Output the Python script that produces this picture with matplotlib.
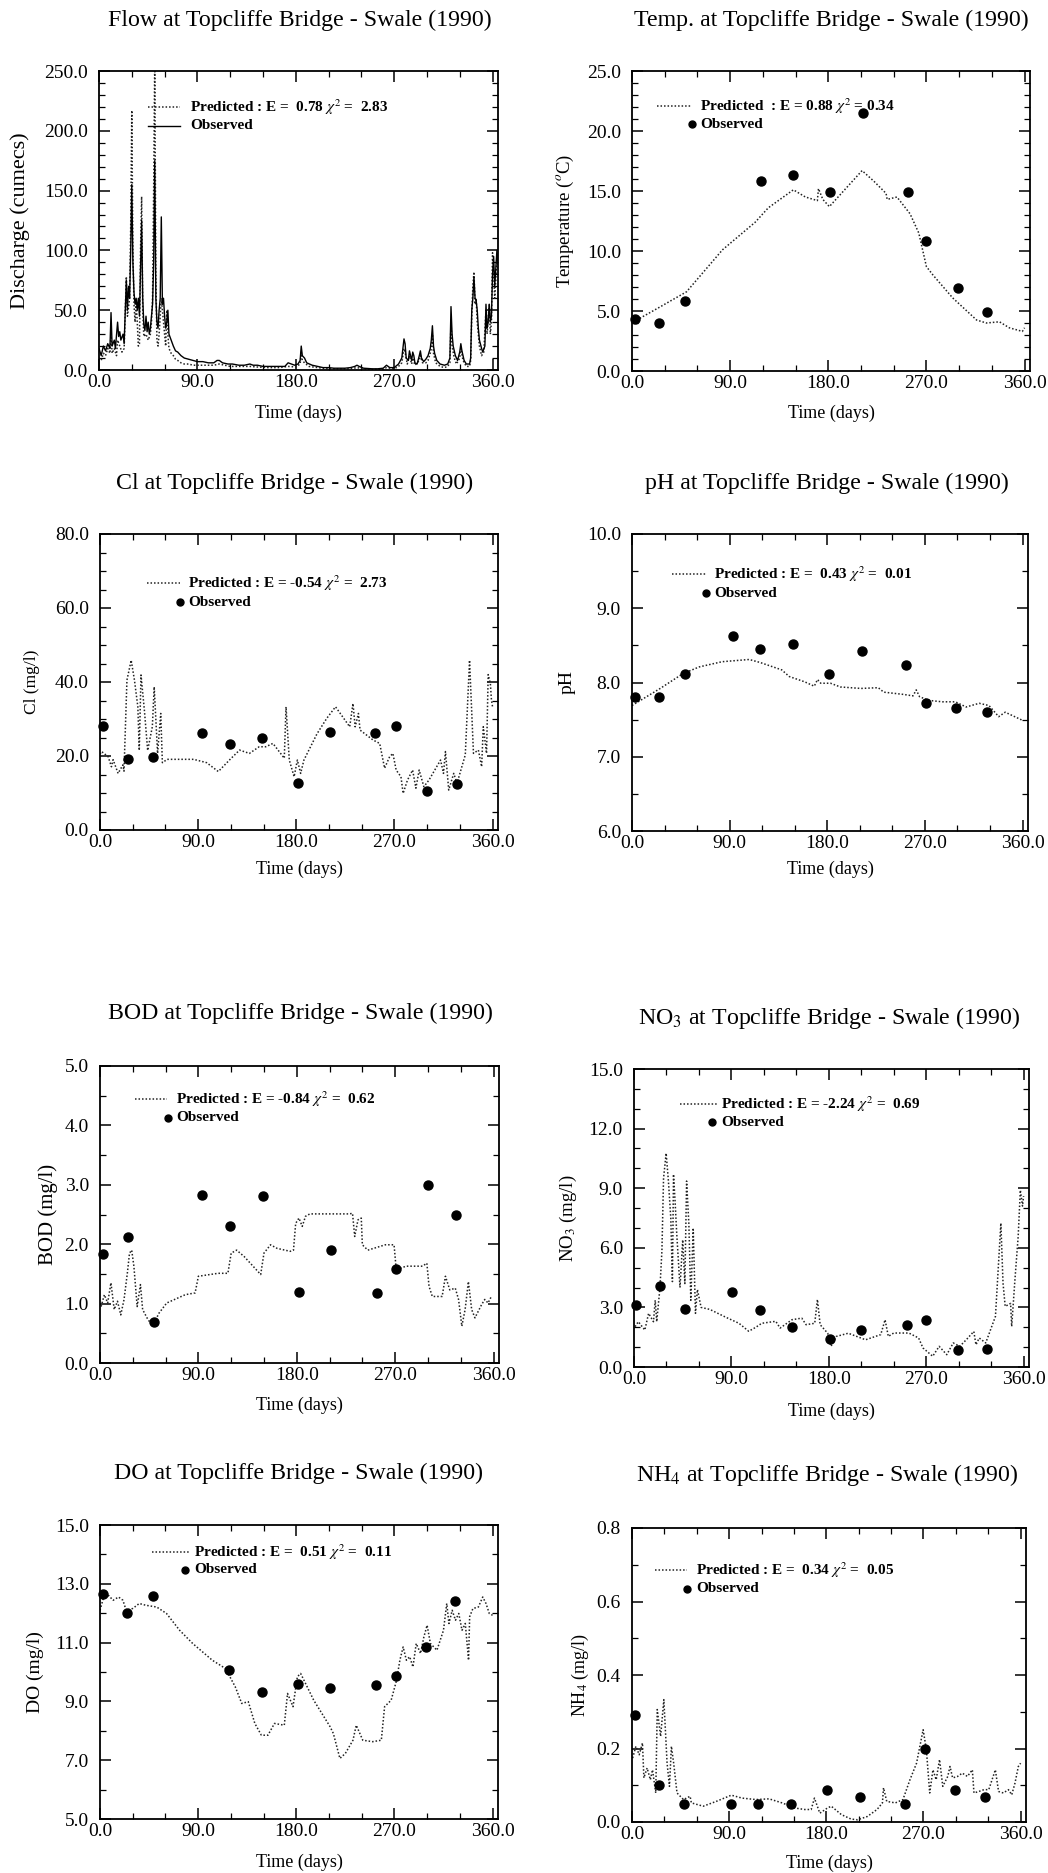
import matplotlib
matplotlib.use("Agg")
import matplotlib.pyplot as plt
from matplotlib.ticker import MultipleLocator, FormatStrFormatter, FixedLocator

plt.rcParams['font.family'] = ['Liberation Serif', 'DejaVu Serif']
plt.rcParams['mathtext.fontset'] = 'stix'

# ---------------- DATA ----------------
# Flow (cumecs)
flow_obs_day = [0, 2, 4, 6, 8, 10, 11, 12, 14, 15, 17, 18, 19, 20, 22, 23, 25, 26, 27, 28, 29, 30, 31, 32, 33, 34, 35, 36, 37, 38, 39, 40,
                41, 42, 43, 44, 45, 46, 47, 48, 49, 50, 51, 52, 53, 54, 55, 56, 57, 58, 59, 60, 61, 62, 63, 64, 66, 68, 70, 72, 75, 78,
                82, 86, 90, 95, 100, 105, 108, 110, 113, 118, 122, 128, 133, 138, 141, 145, 150, 155, 160, 165, 170, 173, 176, 179,
                182, 184, 185, 186, 188, 190, 195, 200, 205, 210, 215, 220, 225, 230, 234, 236, 238, 242, 250, 255, 260, 263, 266,
                270, 274, 277, 279, 280, 281, 283, 284, 286, 287, 288, 289, 291, 293, 294, 295, 297, 299, 301, 303, 304, 305, 306,
                307, 309, 312, 316, 319, 321, 322, 323, 324, 326, 328, 330, 331, 332, 334, 336, 339, 340, 341, 342, 343, 344, 345,
                346, 347, 348, 350, 351, 353, 354, 355, 356, 357, 358, 359, 360, 361, 362, 363, 364, 365]
flow_obs = [18, 12, 20, 16, 22, 18, 48, 20, 25, 18, 40, 28, 32, 25, 30, 22, 75, 50, 70, 60, 100, 155, 90, 65, 55, 60, 50, 60, 45, 85, 125, 60,
            38, 33, 45, 32, 40, 30, 35, 45, 55, 90, 175, 60, 40, 35, 50, 60, 128, 55, 60, 45, 35, 40, 50, 30, 25, 20, 16, 15, 12, 10,
            9, 8, 7, 7, 6, 6, 8, 8, 6, 5, 5, 4, 4, 5, 4, 4, 3, 3, 3, 3, 3, 6, 5, 4,
            5, 8, 20, 12, 10, 6, 4, 3, 2, 2, 1.5, 1.5, 1.5, 2, 3, 4, 3, 1.5, 1, 1, 1.5, 4, 2,
            2, 5, 10, 26, 22, 10, 8, 16, 8, 15, 12, 6, 5, 12, 16, 10, 7, 9, 12, 18, 25, 37, 20,
            14, 8, 5, 4, 5, 10, 53, 30, 20, 12, 8, 15, 22, 16, 8, 5, 5, 10, 50, 60, 78, 60, 58,
            50, 35, 25, 18, 15, 20, 55, 35, 40, 55, 40, 45, 80, 95, 70, 85, 100, 90]
flow_pred_day = [0, 2, 4, 6, 8, 10, 11, 12, 14, 16, 17, 19, 21, 23, 25, 26, 28, 29, 30, 31, 32, 33, 34, 35, 36, 37, 38, 39, 40, 41, 43,
                 45, 47, 48, 49, 50, 51, 52, 53, 54, 55, 56, 57, 58, 59, 60, 61, 62, 63, 64, 66, 68, 70, 72, 75, 78, 82, 86, 90, 95,
                 100, 105, 110, 115, 120, 130, 138, 145, 155, 165, 173, 180, 184, 185, 186, 188, 192, 200, 210, 220, 230, 236, 242,
                 250, 260, 263, 270, 274, 277, 279, 280, 282, 284, 286, 287, 289, 293, 294, 296, 299, 301, 303, 304, 305, 306, 308,
                 312, 316, 319, 321, 322, 323, 325, 327, 330, 331, 333, 336, 339, 340, 341, 342, 343, 344, 345, 346, 348, 350, 352,
                 354, 355, 357, 358, 359, 360, 361, 362, 363, 364, 365]
flow_pred = [10, 8, 14, 12, 18, 14, 30, 14, 18, 12, 25, 20, 15, 18, 78, 45, 60, 120, 217, 100, 55, 40, 57, 40, 20, 22, 100, 145, 50, 28, 30,
             25, 30, 40, 60, 150, 260, 80, 25, 20, 30, 45, 60, 50, 40, 30, 20, 50, 30, 18, 14, 12, 9, 8, 6, 5, 5, 4, 4, 4,
             4, 4, 5, 4, 3, 3, 3, 2.5, 2, 2, 3, 2.5, 5, 15, 8, 6, 3, 2, 1, 1, 1, 2, 1,
             0.5, 0.5, 2, 1, 3, 6, 18, 15, 5, 12, 5, 10, 4, 8, 12, 6, 6, 8, 14, 18, 30, 14, 6,
             3, 2, 3, 6, 40, 20, 10, 5, 10, 18, 8, 3, 3, 8, 45, 70, 82, 55, 60, 40, 20, 12, 15,
             50, 30, 55, 30, 40, 98, 80, 60, 75, 95, 85]

# Temperature (deg C)
temp_pred_day = [1.5, 23, 50, 83, 113, 125, 148, 159, 170, 171, 175, 181, 192, 211, 222, 233, 234, 243, 255, 263, 270, 276, 294, 316,
                 325, 337, 346, 358, 360]
temp_pred = [4.1, 5.2, 6.6, 10.1, 12.4, 13.6, 15.1, 14.5, 14.2, 15.2, 14.3, 13.7, 14.8, 16.7, 15.8, 14.8, 14.3, 14.5, 13.1, 11.5, 8.7,
             8.0, 6.1, 4.25, 4.0, 4.1, 3.6, 3.3, 3.6]
temp_obs_day = [3, 25, 49, 118, 148, 182, 212, 253, 270, 299, 326]
temp_obs = [4.3, 4.0, 5.8, 15.8, 16.3, 14.9, 21.5, 14.9, 10.8, 6.9, 4.9]

# Chloride (mg/l)
cl_pred_day = [0, 1.5, 7.5, 10.5, 12, 16.6, 21, 22, 24.7, 28.6, 31.6, 34.7, 36, 37.6, 40.7, 43.7, 48, 49.7, 52.8, 55.7, 57.2, 61.7,
               73.8, 85.8, 97.8, 108.5, 119, 128, 137, 146, 152, 158.6, 169, 170.6, 173.6, 178, 181, 184, 187, 199, 208, 216,
               229, 232, 234, 237, 238.5, 250.5, 256.5, 261, 265.6, 268.6, 271.6, 276, 278, 282, 286.7, 289.7, 292.7, 297,
               301.7, 312.3, 315, 316.8, 319.8, 324.4, 327.4, 335, 338.9, 342.5, 347, 350, 351.5, 354.5, 356, 358, 359, 360]
cl_pred = [20.5, 21.2, 19.8, 17.1, 19.0, 15.3, 17.6, 15.9, 40.5, 45.9, 40.5, 33.3, 21.5, 41.9, 32.4, 21.5, 27.9, 38.7, 20.7, 31.5, 18.2,
           19.1, 19.1, 19.1, 18.2, 15.8, 19.0, 21.6, 20.7, 22.5, 22.5, 23.4, 19.4, 33.3, 18.9, 14.4, 18.9, 15.3, 18.9, 26.0, 30.2,
           33.3, 27.9, 34.2, 27.9, 31.5, 27.0, 24.3, 23.4, 16.7, 19.8, 20.7, 16.2, 14.4, 9.9, 13.5, 16.2, 11.3, 16.2, 11.7,
           13.5, 18.9, 15.3, 21.2, 10.8, 15.3, 12.6, 20.3, 45.9, 20.7, 21.6, 17.1, 27.9, 20.7, 42.0, 39.6, 35.1, 33.3]
cl_obs_day = [3, 26, 49, 94, 119, 149, 182, 211, 252, 271, 300, 327]
cl_obs = [28.1, 19.1, 19.8, 26.1, 23.2, 25.0, 12.8, 26.6, 26.3, 28.1, 10.5, 12.4]

# pH
ph_pred_day = [0, 26, 47, 62, 83, 108, 118, 138, 145, 159, 168, 171, 174, 183, 192, 211, 227, 232, 250, 259, 262, 265, 273, 286, 298,
               308, 320, 329, 338, 344, 360]
ph_pred = [7.69, 7.92, 8.12, 8.21, 8.28, 8.31, 8.27, 8.17, 8.08, 8.01, 7.95, 8.04, 7.99, 7.99, 7.94, 7.92, 7.93, 7.87, 7.84, 7.82,
           7.90, 7.81, 7.76, 7.74, 7.74, 7.67, 7.72, 7.69, 7.54, 7.60, 7.49]
ph_obs_day = [2.4, 25, 49, 93, 118, 148, 182, 212, 253, 271, 299, 327]
ph_obs = [7.81, 7.81, 8.11, 8.62, 8.45, 8.52, 8.12, 8.42, 8.23, 7.72, 7.66, 7.60]

# BOD (mg/l)
bod_pred_day = [1, 4, 7, 10, 13, 16, 19, 22, 25, 27, 29, 31, 34, 37, 39, 43, 48, 54, 61, 78, 87, 90, 108, 117, 120, 125, 132, 147,
                150, 156, 162, 174, 177, 179, 182, 185, 188, 192, 228, 231, 233, 236, 239, 240, 245, 261, 269, 271, 280, 295,
                299, 301, 304, 313, 316, 320, 325, 328, 331, 334, 337, 340, 343, 349, 352, 355, 358]
bod_pred = [0.95, 1.15, 1.01, 1.35, 0.90, 1.04, 0.81, 1.07, 1.51, 1.85, 1.90, 1.63, 0.95, 1.32, 0.90, 0.76, 0.62, 0.84, 1.01, 1.15,
            1.18, 1.46, 1.51, 1.51, 1.85, 1.90, 1.79, 1.49, 1.85, 1.99, 1.93, 1.88, 1.90, 2.35, 2.44, 2.30, 2.47, 2.51, 2.51,
            2.52, 2.13, 2.41, 2.44, 1.99, 1.90, 1.99, 1.99, 1.57, 1.63, 1.63, 1.68, 1.29, 1.12, 1.12, 1.46, 1.23, 1.26, 1.07,
            0.62, 0.90, 1.37, 0.90, 0.76, 0.98, 1.07, 1.01, 1.12]
bod_obs_day = [2.7, 26, 49, 93, 119, 149, 182, 211, 253, 271, 300, 326]
bod_obs = [1.83, 2.12, 0.69, 2.82, 2.31, 2.81, 1.19, 1.90, 1.18, 1.58, 3.00, 2.49]

# Nitrate (mg/l)
no3_pred_day = [1, 4, 10, 13.5, 18, 19.6, 21, 24, 25.8, 27.3, 29.7, 31.8, 34, 35.5, 36.5, 38, 39.5, 42.5, 45, 47, 48.6, 50.7, 52.5,
                54.7, 56.8, 58.6, 62, 70, 85, 97, 106, 112.6, 118, 131, 135, 146, 155, 159, 167, 169.5, 172, 179, 182, 187,
                198, 214, 228, 232, 235, 240, 254, 263, 267, 276, 282, 289, 295, 301, 307, 314, 316, 319, 325, 334, 339,
                341, 343, 348, 349, 352, 355, 357, 359, 360]
no3_pred = [2.03, 2.28, 1.86, 2.70, 2.28, 3.36, 2.28, 4.00, 5.85, 9.50, 10.76, 9.36, 7.50, 4.30, 9.70, 8.30, 6.70, 4.00, 6.40, 4.20,
            9.36, 7.20, 3.36, 7.00, 2.70, 3.90, 3.00, 2.90, 2.50, 2.20, 1.80, 2.00, 2.20, 2.30, 1.96, 2.38, 2.46, 2.13, 2.20,
            3.40, 2.13, 1.70, 1.04, 1.54, 1.70, 1.37, 1.63, 2.38, 1.54, 1.71, 1.71, 1.46, 0.96, 0.54, 1.04, 0.62, 1.21, 1.04,
            1.37, 1.79, 1.12, 1.46, 1.21, 2.55, 7.24, 4.22, 3.05, 3.20, 2.04, 4.39, 6.57, 8.90, 8.10, 8.60]
no3_obs_day = [2, 24, 47, 91, 116, 146, 181, 210, 252, 270, 299, 326]
no3_obs = [3.10, 4.06, 2.92, 3.80, 2.85, 2.00, 1.41, 1.88, 2.09, 2.36, 0.87, 0.90]

# Dissolved oxygen (mg/l)
do_pred_day = [0, 3, 8, 12, 17, 21, 24, 30, 36, 42, 52, 61, 73, 85, 103, 115, 124, 130, 136, 142, 148, 154, 160, 169, 172, 177, 181,
               184, 196, 211, 214, 220, 225, 232, 235, 241, 250, 258, 261, 267, 272, 275, 278, 281, 284, 287, 290, 294, 297,
               300, 303, 309, 315, 318, 320, 323, 326, 329, 332, 335, 338, 339, 342, 347, 351, 354, 357, 360]
do_pred = [12.10, 12.50, 12.60, 12.44, 12.55, 12.44, 12.10, 12.16, 12.33, 12.27, 12.21, 11.99, 11.42, 10.97, 10.40, 10.12, 9.50,
           8.93, 8.99, 8.25, 7.85, 7.85, 8.25, 8.19, 9.27, 8.82, 9.84, 9.95, 9.04, 8.14, 7.91, 7.06, 7.23, 7.68, 8.19, 7.68,
           7.63, 7.68, 8.82, 9.04, 9.72, 10.40, 10.85, 10.40, 10.52, 10.17, 10.97, 10.63, 11.19, 11.59, 10.97, 10.74, 11.42,
           12.33, 11.65, 12.10, 11.76, 11.99, 11.42, 11.65, 10.40, 11.88, 12.16, 12.21, 12.55, 12.33, 11.99, 11.93]
do_obs_day = [2.7, 25, 49, 118, 149, 182, 211, 253, 271, 299, 326]
do_obs = [12.64, 11.99, 12.60, 10.06, 9.33, 9.59, 9.47, 9.55, 9.86, 10.85, 12.42]

# Ammonium (mg/l)
nh4_pred_day = [0.6, 3.6, 6.7, 9.7, 11, 14, 17, 19, 22, 23.4, 26.5, 29.5, 32.5, 34.7, 36.5, 38.6, 41.7, 47.7, 53.8, 55, 66, 78, 92,
                102, 115, 127, 139, 151, 160, 166, 169, 174, 181, 184.6, 194, 203, 209, 218, 227, 232, 233, 236, 244, 251,
                257.5, 263.6, 269.7, 272.7, 275.8, 278.8, 281.8, 284.9, 287.9, 292.5, 294.6, 297, 301.6, 306, 310.7, 315.3,
                316.8, 321.3, 326, 330.5, 336.6, 339.6, 344, 348.7, 351.8, 354.8, 357.9, 360]
nh4_pred = [0.174, 0.206, 0.183, 0.215, 0.120, 0.147, 0.115, 0.142, 0.079, 0.306, 0.233, 0.333, 0.160, 0.097, 0.206, 0.160, 0.079,
            0.061, 0.070, 0.052, 0.043, 0.056, 0.073, 0.065, 0.061, 0.063, 0.052, 0.038, 0.034, 0.034, 0.065, 0.024, 0.038,
            0.043, 0.020, 0.008, 0.006, 0.015, 0.034, 0.052, 0.093, 0.056, 0.052, 0.061, 0.115, 0.160, 0.251, 0.197, 0.079,
            0.142, 0.115, 0.170, 0.097, 0.124, 0.151, 0.120, 0.124, 0.133, 0.124, 0.142, 0.079, 0.083, 0.088, 0.088, 0.142,
            0.083, 0.079, 0.088, 0.074, 0.106, 0.151, 0.160]
nh4_obs_day = [3, 25, 48, 92, 117, 147, 181, 211, 253, 271, 299, 327]
nh4_obs = [0.292, 0.100, 0.050, 0.050, 0.050, 0.050, 0.088, 0.068, 0.049, 0.199, 0.086, 0.067]

titles = ["Flow at Topcliffe Bridge - Swale (1990)",
          "Temp. at Topcliffe Bridge - Swale (1990)",
          "Cl at Topcliffe Bridge - Swale (1990)",
          "pH at Topcliffe Bridge - Swale (1990)",
          "BOD at Topcliffe Bridge - Swale (1990)",
          "NO$_3$ at Topcliffe Bridge - Swale (1990)",
          "DO at Topcliffe Bridge - Swale (1990)",
          "NH$_4$ at Topcliffe Bridge - Swale (1990)"]
ylabels = ["Discharge (cumecs)", "Temperature ($^o$C)", "Cl (mg/l)", "pH", "BOD (mg/l)",
           "NO$_3$ (mg/l)", "DO (mg/l)", "NH$_4$ (mg/l)"]
legend_texts = ["Predicted : E =  0.78 $\\chi^2$ =  2.83",
                "Predicted  : E = 0.88 $\\chi^2$ = 0.34",
                "Predicted : E = -0.54 $\\chi^2$ =  2.73",
                "Predicted : E =  0.43 $\\chi^2$ =  0.01",
                "Predicted : E = -0.84 $\\chi^2$ =  0.62",
                "Predicted : E = -2.24 $\\chi^2$ =  0.69",
                "Predicted : E =  0.51 $\\chi^2$ =  0.11",
                "Predicted : E =  0.34 $\\chi^2$ =  0.05"]
y_ranges = [(0, 250), (0, 25), (0, 80), (6, 10), (0, 5), (0, 15), (5, 15), (0, 0.8)]
y_ticks = [[0, 50, 100, 150, 200, 250], [0, 5, 10, 15, 20, 25], [0, 20, 40, 60, 80], [6, 7, 8, 9, 10],
           [0, 1, 2, 3, 4, 5], [0, 3, 6, 9, 12, 15], [5, 7, 9, 11, 13, 15], [0, 0.2, 0.4, 0.6, 0.8]]
y_minor = [10, 1, 5, 0.5, 0.5, 1, 1, 0.1]
x_ticks = [0, 90, 180, 270, 360]

# ---------------- LAYOUT ----------------
W, H = 1048, 1873
boxes = [(99, 71, 498, 370), (632, 71, 1030, 371),
         (100, 534, 498, 830), (632, 534, 1028, 831),
         (100, 1066, 499, 1363), (634, 1069, 1029, 1367),
         (100, 1525, 498, 1819), (632, 1528, 1026, 1822)]
title_pos = [(300, 20), (831, 20), (295, 483), (827, 483), (300, 1013), (829, 1018), (298, 1473), (827, 1475)]
ylabel_x = [-0.198, -0.166, -0.171, -0.164, -0.13, -0.165, -0.163, -0.13]
ylabel_size = [16.0, 13.5, 12.5, 14.0, 15.0, 13.5, 14.0, 13.0]
xlabel_y = [-0.144, -0.14, -0.132, -0.128, -0.141, -0.148, -0.146, -0.139]
leg = [(0.123, 0.203, 0.228, 0.880, 0.203, 0.817),
       (0.063, 0.148, 0.171, 0.883, 0.151, 0.823),
       (0.118, 0.201, 0.221, 0.834, 0.201, 0.770),
       (0.100, 0.186, 0.207, 0.865, 0.186, 0.801),
       (0.088, 0.168, 0.190, 0.889, 0.170, 0.825),
       (0.116, 0.210, 0.220, 0.883, 0.198, 0.822),
       (0.130, 0.226, 0.236, 0.908, 0.214, 0.847),
       (0.058, 0.140, 0.162, 0.857, 0.140, 0.793)]

pred_days = [flow_pred_day, temp_pred_day, cl_pred_day, ph_pred_day, bod_pred_day, no3_pred_day, do_pred_day, nh4_pred_day]
pred_vals = [flow_pred, temp_pred, cl_pred, ph_pred, bod_pred, no3_pred, do_pred, nh4_pred]
obs_days = [flow_obs_day, temp_obs_day, cl_obs_day, ph_obs_day, bod_obs_day, no3_obs_day, do_obs_day, nh4_obs_day]
obs_vals = [flow_obs, temp_obs, cl_obs, ph_obs, bod_obs, no3_obs, do_obs, nh4_obs]

fig = plt.figure(figsize=(W / 100, H / 100), dpi=100)
fig.patch.set_facecolor('white')

dot_style = (0, (1.0, 1.3))

for i in range(8):
    l, t, r, b = boxes[i]
    ax = fig.add_axes([l / W, 1 - b / H, (r - l) / W, (b - t) / H])
    ax.set_xlim(0, 365)
    ax.set_ylim(*y_ranges[i])
    ax.xaxis.set_major_locator(FixedLocator(x_ticks))
    ax.xaxis.set_minor_locator(MultipleLocator(30))
    ax.yaxis.set_major_locator(FixedLocator(y_ticks[i]))
    ax.yaxis.set_minor_locator(MultipleLocator(y_minor[i]))
    ax.xaxis.set_major_formatter(FormatStrFormatter('%.1f'))
    ax.yaxis.set_major_formatter(FormatStrFormatter('%.1f'))
    ax.tick_params(which='both', direction='in', top=True, right=True, labelsize=14, colors='black')
    ax.tick_params(which='major', length=8, width=1.1)
    ax.tick_params(which='minor', length=4, width=0.9)
    ax.tick_params(axis='y', which='major', pad=8)
    ax.tick_params(axis='x', which='major', pad=3)
    for sp in ax.spines.values():
        sp.set_linewidth(1.3)

    ax.plot(pred_days[i], pred_vals[i], color='#222222', linestyle=dot_style, linewidth=1.1, clip_on=True)
    if i == 0:
        ax.plot(obs_days[i], obs_vals[i], color='black', linestyle='-', linewidth=1.0)
    else:
        ax.plot(obs_days[i], obs_vals[i], linestyle='none', marker='o', markersize=6.5,
                markerfacecolor='black', markeredgecolor='black', clip_on=False)

    x0, x1, tx, py, mx, oy = leg[i]
    ax.plot([x0, x1], [py, py], transform=ax.transAxes, color='#222222', linestyle=dot_style, linewidth=1.1)
    ax.text(tx, py, legend_texts[i], transform=ax.transAxes, fontsize=11, fontweight='bold',
            ha='left', va='center')
    if i == 0:
        ax.plot([x0, x1], [oy, oy], transform=ax.transAxes, color='black', linestyle='-', linewidth=1.0)
    else:
        ax.plot([mx], [oy], transform=ax.transAxes, marker='o', markersize=5, color='black', linestyle='none')
    ax.text(tx, oy, "Observed", transform=ax.transAxes, fontsize=11, fontweight='bold',
            ha='left', va='center')

    ax.text(ylabel_x[i], 0.5, ylabels[i], transform=ax.transAxes, rotation=90,
            ha='center', va='center', fontsize=ylabel_size[i])
    ax.text(0.5, xlabel_y[i], "Time (days)", transform=ax.transAxes,
            ha='center', va='center', fontsize=13)

    tx_, ty_ = title_pos[i]
    fig.text(tx_ / W, 1 - ty_ / H, titles[i], ha='center', va='center', fontsize=17.2)

fig.savefig("out.png", dpi=100, facecolor='white')
